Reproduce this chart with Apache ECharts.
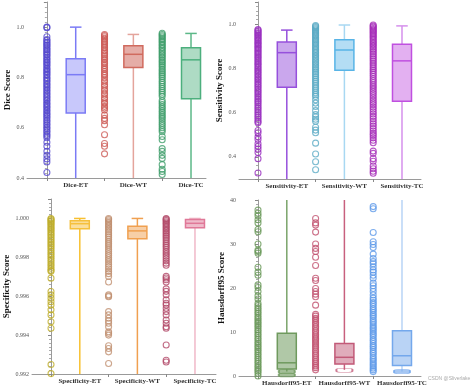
<!DOCTYPE html>
<html><head><meta charset="utf-8">
<script src="https://cdn.jsdelivr.net/npm/echarts@6/dist/echarts.min.js"></script>
<style>html,body{margin:0;padding:0;background:#fff}#c{width:474px;height:390px}</style>
</head><body><div id="c"></div>
<script>
// ---- category slots (scatter column, box column) ----
const diceLabels = ['', 'Dice-ET', '', 'Dice-WT', '', 'Dice-TC'];
const sensLabels = ['', 'Sensitivity-ET', '', 'Sensitivity-WT', '', 'Sensitivity-TC'];
const specLabels = ['', 'Specificity-ET', '', 'Specificity-WT', '', 'Specificity-TC'];
const hd95Labels = ['', 'Hausdorff95-ET', '', 'Hausdorff95-WT', '', 'Hausdorff95-TC'];

// ---- box stats: [lower whisker, Q1, median, Q3, upper whisker] ----
const diceBoxes = [[0.38, 0.659, 0.811, 0.874, 1.0], [0.38, 0.839, 0.892, 0.926, 0.971], [0.38, 0.715, 0.870, 0.918, 0.975]];
const sensBoxes = [[0.28, 0.715, 0.871, 0.919, 0.973], [0.28, 0.792, 0.883, 0.929, 0.996], [0.28, 0.651, 0.834, 0.909, 0.992]];
const specBoxes = [[0.9918, 0.99947, 0.99973, 0.99988, 1.0], [0.9918, 0.99895, 0.99936, 0.9996, 1.0], [0.9918, 0.99952, 0.99975, 0.99995, 1.0]];
const hd95Boxes = [[1.0, 1.6, 3.0, 9.7, 45], [1.4, 2.7, 4.25, 7.4, 45], [1.0, 2.4, 4.6, 10.3, 45]];
const hd95LowMarks = [[1.0, 0.2], [1.3], [1.0]];

// ---- individual case scores ----
const diceET = [1.0, 0.998, 0.962, 0.951, 0.947, 0.94, 0.936, 0.929, 0.926, 0.919, 0.913, 0.909, 0.902, 0.898, 0.891, 0.887, 0.88, 0.873, 0.869, 0.861, 0.858, 0.85, 0.846, 0.837, 0.833, 0.825, 0.821, 0.813, 0.809, 0.8, 0.796, 0.788, 0.784, 0.775, 0.771, 0.763, 0.758, 0.75, 0.745, 0.737, 0.732, 0.724, 0.719, 0.711, 0.706, 0.697, 0.693, 0.684, 0.68, 0.671, 0.666, 0.658, 0.653, 0.645, 0.639, 0.63, 0.625, 0.616, 0.611, 0.602, 0.597, 0.588, 0.583, 0.574, 0.568, 0.56, 0.542, 0.526, 0.506, 0.49, 0.476, 0.464, 0.422];
const diceWT = [0.971, 0.967, 0.962, 0.956, 0.952, 0.945, 0.941, 0.934, 0.929, 0.921, 0.917, 0.909, 0.904, 0.896, 0.89, 0.883, 0.875, 0.87, 0.861, 0.855, 0.847, 0.838, 0.832, 0.823, 0.814, 0.808, 0.799, 0.789, 0.782, 0.771, 0.765, 0.754, 0.747, 0.737, 0.73, 0.719, 0.713, 0.702, 0.696, 0.685, 0.678, 0.67, 0.65, 0.637, 0.628, 0.612, 0.572, 0.537, 0.526, 0.496];
const diceTC = [0.976, 0.971, 0.966, 0.961, 0.955, 0.95, 0.944, 0.939, 0.932, 0.927, 0.92, 0.915, 0.908, 0.902, 0.895, 0.889, 0.882, 0.876, 0.868, 0.862, 0.855, 0.848, 0.841, 0.833, 0.826, 0.818, 0.811, 0.803, 0.796, 0.787, 0.78, 0.772, 0.764, 0.756, 0.748, 0.741, 0.733, 0.725, 0.708, 0.7, 0.692, 0.683, 0.676, 0.667, 0.66, 0.651, 0.643, 0.635, 0.626, 0.617, 0.609, 0.6, 0.592, 0.584, 0.565, 0.552, 0.517, 0.506, 0.49, 0.478, 0.453, 0.435, 0.426, 0.414];

const sensET = [0.976, 0.972, 0.967, 0.961, 0.957, 0.951, 0.946, 0.94, 0.935, 0.929, 0.924, 0.917, 0.912, 0.906, 0.9, 0.894, 0.888, 0.882, 0.875, 0.869, 0.863, 0.856, 0.85, 0.843, 0.837, 0.83, 0.823, 0.817, 0.81, 0.803, 0.796, 0.789, 0.782, 0.775, 0.768, 0.76, 0.753, 0.746, 0.738, 0.731, 0.723, 0.716, 0.708, 0.7, 0.693, 0.685, 0.677, 0.669, 0.661, 0.653, 0.645, 0.637, 0.628, 0.62, 0.612, 0.603, 0.595, 0.586, 0.578, 0.569, 0.56, 0.554, 0.519, 0.509, 0.491, 0.479, 0.459, 0.447, 0.435, 0.42, 0.392, 0.327];
const sensWT = [0.993, 0.989, 0.984, 0.979, 0.974, 0.969, 0.963, 0.958, 0.952, 0.947, 0.941, 0.935, 0.929, 0.923, 0.917, 0.911, 0.905, 0.898, 0.892, 0.885, 0.879, 0.872, 0.865, 0.858, 0.851, 0.844, 0.836, 0.829, 0.822, 0.814, 0.806, 0.799, 0.791, 0.783, 0.775, 0.767, 0.759, 0.75, 0.742, 0.734, 0.725, 0.716, 0.708, 0.699, 0.69, 0.681, 0.673, 0.658, 0.643, 0.628, 0.609, 0.591, 0.58, 0.57, 0.561, 0.534, 0.521, 0.509, 0.462, 0.413, 0.378, 0.342];
const sensTC = [0.996, 0.991, 0.986, 0.98, 0.975, 0.969, 0.963, 0.957, 0.951, 0.944, 0.938, 0.931, 0.924, 0.917, 0.91, 0.903, 0.896, 0.888, 0.881, 0.873, 0.865, 0.857, 0.849, 0.841, 0.833, 0.824, 0.816, 0.807, 0.798, 0.79, 0.781, 0.772, 0.763, 0.753, 0.744, 0.735, 0.725, 0.716, 0.706, 0.696, 0.686, 0.676, 0.666, 0.656, 0.646, 0.636, 0.625, 0.615, 0.604, 0.594, 0.583, 0.572, 0.561, 0.55, 0.539, 0.528, 0.517, 0.506, 0.497, 0.486, 0.475, 0.464, 0.426, 0.416, 0.392, 0.38, 0.359, 0.346, 0.335, 0.326];

const specET = [1.0, 0.99995, 0.99989, 0.99983, 0.99976, 0.9997, 0.99962, 0.99955, 0.99947, 0.9994, 0.99931, 0.99923, 0.99915, 0.99906, 0.99897, 0.99888, 0.99879, 0.99869, 0.9986, 0.9985, 0.9984, 0.9983, 0.9982, 0.9981, 0.99799, 0.99788, 0.99777, 0.99766, 0.99755, 0.99744, 0.99733, 0.99728, 0.99693, 0.99624, 0.99607, 0.9959, 0.99572, 0.99555, 0.9953, 0.99504, 0.99469, 0.99435, 0.99249, 0.99202];
const specWT = [1.0, 0.99994, 0.99987, 0.9998, 0.99972, 0.99964, 0.99956, 0.99948, 0.99939, 0.9993, 0.99921, 0.99912, 0.99903, 0.99893, 0.99883, 0.99873, 0.99863, 0.99853, 0.99842, 0.99831, 0.9982, 0.99809, 0.99798, 0.99787, 0.99776, 0.99764, 0.99752, 0.9974, 0.99728, 0.99716, 0.99702, 0.99673, 0.99607, 0.99601, 0.99597, 0.99521, 0.99504, 0.99487, 0.99473, 0.99461, 0.99443, 0.99417, 0.99409, 0.994, 0.99345, 0.99331, 0.99314, 0.99254];
const specTC = [1.0, 0.99995, 0.99989, 0.99982, 0.99975, 0.99968, 0.9996, 0.99952, 0.99944, 0.99936, 0.99927, 0.99918, 0.99909, 0.999, 0.9989, 0.9988, 0.9987, 0.9986, 0.9985, 0.99839, 0.99828, 0.99817, 0.99806, 0.99794, 0.99782, 0.9977, 0.99759, 0.99702, 0.99694, 0.99685, 0.99673, 0.99638, 0.99625, 0.99607, 0.99581, 0.99564, 0.99555, 0.99538, 0.99521, 0.99504, 0.99478, 0.99461, 0.99443, 0.99435, 0.99349, 0.99271, 0.99262];

const hd95ET = [37.7, 37.0, 36.4, 35.5, 34.8, 33.3, 32.8, 30.0, 28.6, 28.3, 27.9, 24.7, 23.6, 22.9, 20.7, 20.1, 19.2, 18.2, 17.5, 16.5, 16.0, 15.5, 15.1, 14.6, 14.2, 13.7, 13.2, 12.8, 12.3, 11.9, 11.4, 11.0, 10.5, 10.1, 9.6, 9.2, 8.7, 8.3, 7.8, 7.4, 6.9, 6.5, 6.0, 5.6, 5.1, 4.7, 4.2, 3.8, 3.3, 2.9, 2.4, 2.0, 1.5, 1.1, 0.6, 0.0];
const hd95WT = [35.8, 34.8, 34.3, 32.7, 30.0, 29.0, 28.3, 27.0, 25.1, 22.2, 21.7, 19.9, 19.2, 18.6, 18.0, 16.1, 14.0, 13.6, 13.1, 12.7, 12.2, 11.8, 11.3, 10.9, 10.4, 10.0, 9.5, 9.1, 8.6, 8.2, 7.7, 7.3, 6.8, 6.4, 5.9, 5.5, 5.0, 4.6, 4.1, 3.7, 3.2, 2.8, 2.3, 1.9, 1.4];
const hd95TC = [38.5, 38.0, 32.6, 30.5, 29.9, 29.2, 27.7, 26.7, 26.0, 25.5, 24.8, 24.1, 23.6, 22.9, 22.2, 21.1, 20.5, 19.9, 19.2, 18.4, 17.7, 17.2, 16.7, 16.3, 15.8, 15.3, 14.9, 14.4, 13.9, 13.5, 13.0, 12.5, 12.1, 11.6, 11.1, 10.7, 10.2, 9.7, 9.3, 8.8, 8.3, 7.9, 7.4, 6.9, 6.5, 6.0, 5.5, 5.1, 4.6, 4.1, 3.7, 3.2, 2.7, 2.3, 1.8, 1.4, 1.0];

// ---- panel definitions ----
const SERIF = "'Liberation Serif','DejaVu Serif',serif";
const panels = [
  { name: 'Dice Score', labels: diceLabels, boxes: diceBoxes, pts: [diceET, diceWT, diceTC],
    grid: { left: 27, top: 2, width: 179, height: 176 }, x: [-0.69, 5.52],
    y: { min: 0.4, max: 1.1, interval: 0.1, minor: 5, fmt: v => (Math.round(v * 10) % 2 === 0 && v <= 1.0001) ? v.toFixed(1) : '' },
    stroke: ['#7b7bf5', '#d06a5e', '#4caf7d'], fill: ['rgba(123,123,245,0.42)', 'rgba(208,106,94,0.55)', 'rgba(76,175,125,0.45)'],
    dot: ['#5548d0', '#cc5a55', '#3f9e6a'], whisk: ['#7b7bf5', '#e4a49c', '#5cb888'], nameGap: 13 },
  { name: 'Sensitivity Score', labels: sensLabels, boxes: sensBoxes, pts: [sensET, sensWT, sensTC],
    grid: { left: 239, top: 2, width: 182, height: 177 }, x: [-0.66, 5.66],
    y: { min: 0.3, max: 1.1, interval: 0.1, minor: 5, fmt: v => (Math.round(v * 10) % 2 === 0 && v <= 1.0001) ? v.toFixed(1) : '' },
    stroke: ['#9650dc', '#58b4e6', '#c050e0'], fill: ['rgba(150,80,220,0.5)', 'rgba(88,180,230,0.45)', 'rgba(192,80,224,0.45)'],
    dot: ['#9a30c0', '#5aaac4', '#a52cb8'], whisk: ['#9650dc', '#a8d8f2', '#d590ec'], nameGap: 13 },
  { name: 'Specificity Score', labels: specLabels, boxes: specBoxes, pts: [specET, specWT, specTC],
    grid: { left: 32, top: 199, width: 184, height: 175 }, x: [-0.66, 5.73],
    y: { min: 0.992, max: 1.001, interval: 0.002, minor: 10, fmt: v => v <= 1.0000001 ? v.toFixed(3) : '' },
    stroke: ['#f5c03c', '#f0a050', '#e07898'], fill: ['rgba(245,192,60,0.5)', 'rgba(240,160,80,0.5)', 'rgba(224,120,152,0.5)'],
    dot: ['#bfae2a', '#c09070', '#b24868'], whisk: ['#f8c030', '#f0a050', '#f0b8c8'], nameGap: 18 },
  { name: 'Hausdorff95 Score', labels: hd95Labels, boxes: hd95Boxes, pts: [hd95ET, hd95WT, hd95TC],
    grid: { left: 239, top: 200, width: 182, height: 176 }, x: [-0.66, 5.66],
    y: { min: 0, max: 40, interval: 10, minor: 10, fmt: v => String(v) },
    stroke: ['#6f9a5e', '#c25a78', '#74a8ec'], fill: ['rgba(111,154,94,0.55)', 'rgba(194,90,120,0.5)', 'rgba(116,168,236,0.5)'],
    dot: ['#6a9a5a', '#c0506e', '#5c98e8'], whisk: ['#7aa46a', '#c8607e', '#b8d4f6'], nameGap: 7, lowMarks: hd95LowMarks }
];

const grids = [], xAxes = [], yAxes = [], series = [];
panels.forEach((p, i) => {
  grids.push(p.grid);
  const boxIdx = p.labels.map((l, k) => l ? k : -1).filter(k => k >= 0);
  xAxes.push({
    type: 'value', gridIndex: i, min: p.x[0], max: p.x[1], splitLine: { show: false },
    axisLine: { lineStyle: { color: '#9a9a9a', width: 1 } },
    axisTick: { show: true, customValues: boxIdx.map(k => k - 1), length: 3, lineStyle: { color: '#888' } },
    axisLabel: { customValues: boxIdx, formatter: v => p.labels[Math.round(v)] || '', fontFamily: SERIF, fontWeight: 'bold', fontSize: 7, color: '#333', margin: 4 }
  });
  yAxes.push({
    type: 'value', gridIndex: i, min: p.y.min, max: p.y.max, interval: p.y.interval,
    name: p.name, nameLocation: 'middle', nameGap: p.nameGap,
    nameTextStyle: { fontFamily: SERIF, fontWeight: 'bold', fontSize: 9, color: '#111' },
    splitLine: { show: false },
    axisLine: { show: true, lineStyle: { color: '#9a9a9a', width: 1 } },
    axisTick: { show: true, length: 3, lineStyle: { color: '#888' } },
    minorTick: { show: true, splitNumber: p.y.minor, length: 2, lineStyle: { color: '#aaa' } },
    axisLabel: { formatter: p.y.fmt, fontFamily: SERIF, fontSize: 6, color: '#555', margin: 3, showMaxLabel: true }
  });
  // scatter columns
  p.pts.forEach((arr, j) => {
    const col = boxIdx[j] - 1;
    series.push({
      type: 'scatter', xAxisIndex: i, yAxisIndex: i, symbol: 'circle', symbolSize: 6,
      data: arr.map(v => [col, v]),
      itemStyle: { color: 'rgba(0,0,0,0)', borderColor: p.dot[j], borderWidth: 1.1 },
      silent: true, z: 3
    });
  });
  // boxes
  series.push({
    type: 'custom', xAxisIndex: i, yAxisIndex: i, clip: true, z: 2,
    data: p.boxes.map((b, j) => [boxIdx[j], ...b, j]),
    encode: { x: 0, y: [1, 2, 3, 4, 5] },
    renderItem: (params, api) => {
      const x = api.value(0), j = api.value(6);
      const cs = params.coordSys;
      const unit = api.size([1, 0])[0];
      const bw = unit * 0.66, cw = unit * 0.4;
      const yTop = cs.y, yBot = cs.y + cs.height;
      const cl = y => Math.max(yTop, Math.min(yBot, y));
      const px = api.coord([x, api.value(3)])[0];
      const yLo = api.coord([x, api.value(1)])[1], yQ1 = api.coord([x, api.value(2)])[1];
      const yMed = api.coord([x, api.value(3)])[1], yQ3 = api.coord([x, api.value(4)])[1];
      const yHi = api.coord([x, api.value(5)])[1];
      const sc = p.stroke[j], wc = p.whisk[j];
      const ch = [];
      ch.push({ type: 'line', shape: { x1: px, y1: cl(yHi), x2: px, y2: yQ3 }, style: { stroke: wc, lineWidth: 1.5 } });
      ch.push({ type: 'line', shape: { x1: px, y1: yQ1, x2: px, y2: cl(yLo) }, style: { stroke: wc, lineWidth: 1.5 } });
      if (yHi >= yTop - 0.5) ch.push({ type: 'line', shape: { x1: px - cw / 2, y1: yHi, x2: px + cw / 2, y2: yHi }, style: { stroke: wc, lineWidth: 1.5 } });
      if (yLo <= yBot + 0.5 && !p.lowMarks) ch.push({ type: 'line', shape: { x1: px - cw / 2, y1: yLo, x2: px + cw / 2, y2: yLo }, style: { stroke: wc, lineWidth: 1.5 } });
      ch.push({ type: 'rect', shape: { x: px - bw / 2, y: yQ3, width: bw, height: Math.max(1, yQ1 - yQ3) }, style: { fill: p.fill[j], stroke: sc, lineWidth: 1.5 } });
      ch.push({ type: 'line', shape: { x1: px - bw / 2, y1: yMed, x2: px + bw / 2, y2: yMed }, style: { stroke: sc, lineWidth: 1.5 } });
      return { type: 'group', children: ch };
    }
  });
  if (p.lowMarks) {
    p.lowMarks.forEach((marks, j) => {
      series.push({
        type: 'scatter', xAxisIndex: i, yAxisIndex: i, symbol: 'roundRect', symbolSize: [16, 4], silent: true, z: 4,
        data: marks.map(v => [boxIdx[j], v]),
        itemStyle: { color: j === 1 ? 'rgba(0,0,0,0)' : p.fill[j].replace(/[\d.]+\)$/, '0.8)'), borderColor: p.stroke[j], borderWidth: 1 }
      });
    });
  }
});

const chart = echarts.init(document.getElementById('c'), null, { renderer: 'canvas' });
chart.setOption({
  animation: false,
  backgroundColor: '#fff',
  grid: grids, xAxis: xAxes, yAxis: yAxes, series: series,
  graphic: [{ type: 'text', left: 428, top: 376, style: { text: 'CSDN @Sliverlake', fontSize: 5, fill: '#aaa', fontFamily: 'sans-serif' } }]
});
</script></body></html>
